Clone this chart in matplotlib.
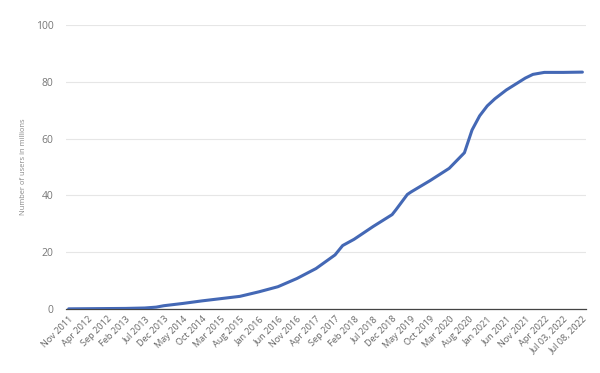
import numpy as np
import matplotlib.pyplot as plt

# month index (0 = Nov 2011), one label every 5 steps
tick_labels = ['Nov 2011', 'Apr 2012', 'Sep 2012', 'Feb 2013', 'Jul 2013',
               'Dec 2013', 'May 2014', 'Oct 2014', 'Mar 2015', 'Aug 2015',
               'Jan 2016', 'Jun 2016', 'Nov 2016', 'Apr 2017', 'Sep 2017',
               'Feb 2018', 'Jul 2018', 'Dec 2018', 'May 2019', 'Oct 2019',
               'Mar 2020', 'Aug 2020', 'Jan 2021', 'Jun 2021', 'Nov 2021',
               'Apr 2022', 'Jul 03, 2022', 'Jul 08, 2022']

# readings (index, users in millions)
idx = [0, 5, 10, 15, 20, 23, 25, 30, 35, 40, 45, 50, 55, 60, 65, 70, 72,
       75, 80, 85, 86, 89, 90, 95, 100, 104, 106, 108, 110, 112, 115, 120,
       122, 125, 130, 135]
users = [0, 0.05, 0.1, 0.15, 0.3, 0.6, 1.1, 1.9, 2.8, 3.6, 4.4, 6.0, 7.8,
         10.7, 14.2, 19.0, 22.3, 24.5, 29.0, 33.2, 34.9, 40.3, 41.2, 45.2,
         49.5, 55.0, 63.0, 68.0, 71.5, 74.0, 77.1, 81.3, 82.6, 83.3, 83.3,
         83.4]

plt.rcParams['font.family'] = ['Open Sans', 'DejaVu Sans']

fig = plt.figure(figsize=(6.0, 3.73), dpi=100)
ax = fig.add_axes([0.11, 0.172, 0.867, 0.761])

ax.plot(idx, users, color='#4468b5', lw=2.2, solid_capstyle='round',
        solid_joinstyle='round', zorder=3)

ax.set_xlim(-0.7, 136)
ax.set_ylim(0, 100)
ax.set_yticks(np.arange(0, 101, 20))
ax.set_xticks(np.arange(0, 5 * len(tick_labels), 5))
ax.set_xticklabels(tick_labels, rotation=45, ha='right',
                   rotation_mode='anchor', fontsize=6.6, color='#666666')
ax.tick_params(axis='y', labelsize=7.5, labelcolor='#777777', length=0, pad=9)
ax.tick_params(axis='x', length=0, pad=4)

ax.grid(axis='y', color='#e6e6e6', lw=0.8)
ax.set_axisbelow(True)
for s in ['top', 'right', 'left']:
    ax.spines[s].set_visible(False)
ax.spines['bottom'].set_color('#444444')
ax.spines['bottom'].set_linewidth(0.9)

ax.set_ylabel('Number of users in millions', fontsize=5.4, color='#888888',
              labelpad=6)

plt.savefig('out.png', dpi=100)
